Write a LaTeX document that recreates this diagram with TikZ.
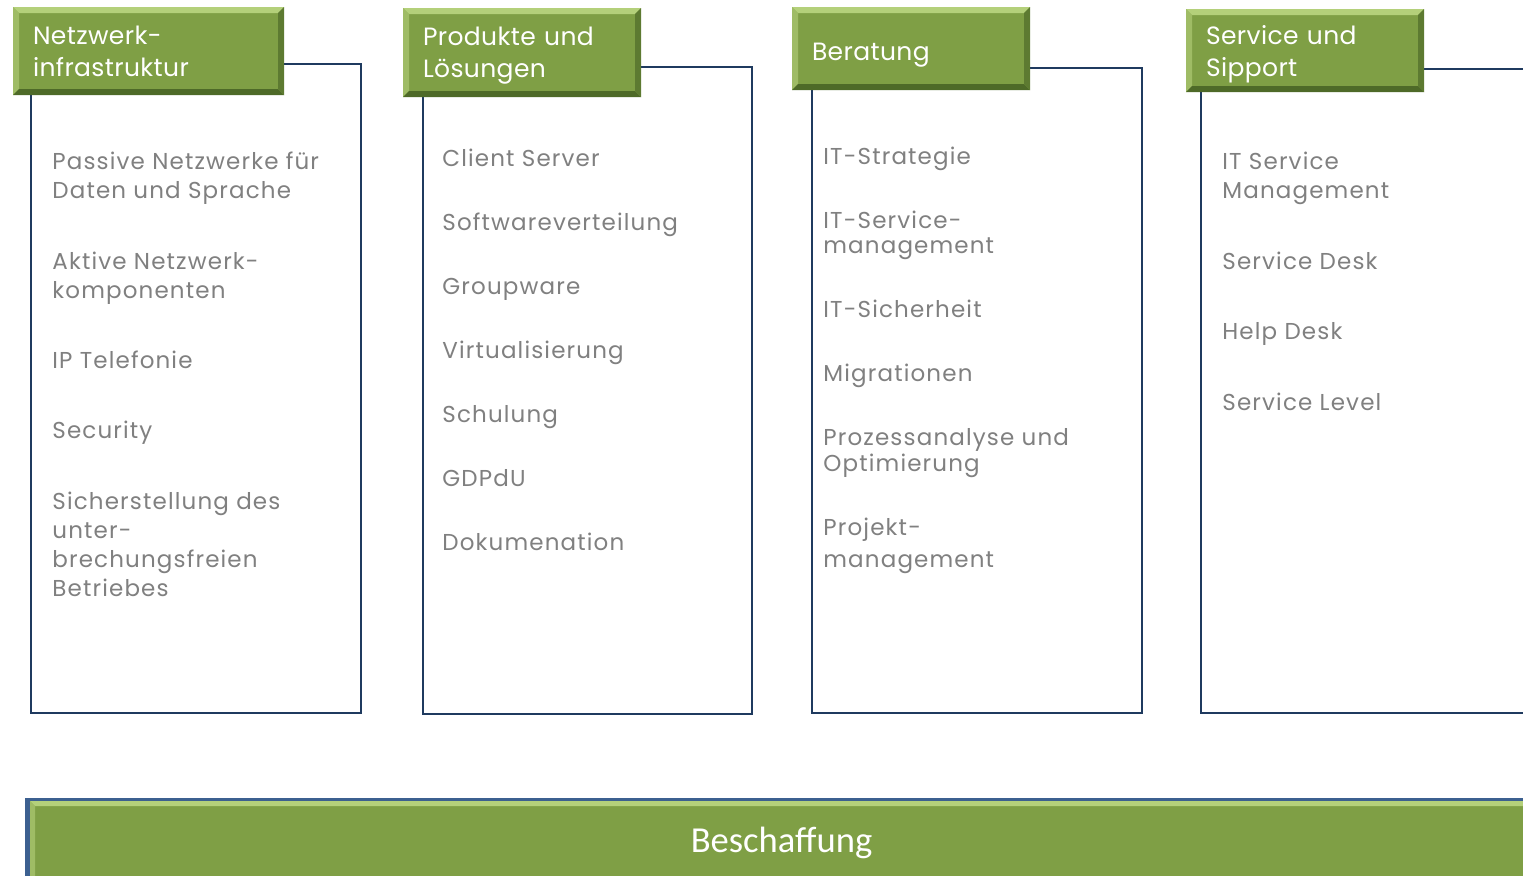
\documentclass[tikz,border=0pt]{standalone}
\usepackage{fontspec}
\setmainfont{Poppins}
\newfontfamily\hdrfont[LetterSpace = 1.5]{Poppins}
\newfontfamily\itemfont[LetterSpace = 5]{Poppins}
\newfontfamily\barfont{Carlito}

\definecolor{hdrgreen}{HTML}{7F9F45}
\definecolor{bvlight}{HTML}{B4D07A}
\definecolor{bvdark}{HTML}{4E6A28}
\definecolor{framenavy}{HTML}{1F3A5F}
\definecolor{barblue}{HTML}{3C6090}
\definecolor{itemgray}{HTML}{808080}

% no depth for lines with descenders
\newcommand{\nodepth}[1]{\raisebox{0pt}[\height][0pt]{#1}}

\tikzset{
	bevelled/.style = {path picture = {
		\coordinate (nw) at (path picture bounding box.north west);
		\coordinate (ne) at (path picture bounding box.north east);
		\coordinate (sw) at (path picture bounding box.south west);
		\coordinate (se) at (path picture bounding box.south east);
		\fill [bvlight] (nw) -- (ne) -- ([shift = {(-#1, -#1)}] ne) -- ([shift = {(#1, -#1)}] nw) -- cycle;
		\fill [bvlight!60!hdrgreen] (nw) -- ([shift = {(#1, -#1)}] nw) -- ([shift = {(#1, #1)}] sw) -- (sw) -- cycle;
		\fill [bvdark] (sw) -- ([shift = {(#1, #1)}] sw) -- ([shift = {(-#1, #1)}] se) -- (se) -- cycle;
		\fill [bvdark!70!hdrgreen] (se) -- ([shift = {(-#1, #1)}] se) -- ([shift = {(-#1, -#1)}] ne) -- (ne) -- cycle;
	}},
	hdr/.style = {fill = hdrgreen, bevelled = 3pt, text = white, align = left,
		font = \hdrfont\fontsize{12.5}{16}\selectfont, inner xsep = 10pt, inner ysep = 0pt},
	item/.style = {anchor = west, align = left, inner sep = 0pt, text = itemgray,
		font = \itemfont\fontsize{11.5}{14.5}\selectfont},
	panel/.style = {draw = framenavy, line width = 1.3pt}
}

\begin{document}
\begin{tikzpicture}[x = 0.5pt, y = -0.5pt]

	\clip (0, 0) rectangle (1523, 875);
	\fill [white] (0, 0) rectangle (1523, 875);

	% Panel frames

	\draw [panel] (31, 64) rectangle (361, 713);
	\draw [panel] (423, 67) rectangle (752, 714);
	\draw [panel] (812, 68) rectangle (1142, 713);
	\draw [panel] (1201, 69) rectangle (1560, 713);

	% Headers

	\node [hdr, text width = 115.5pt, minimum height = 44pt] (netz) at (148.5, 51) {Netzwerk-\\infrastruktur};
	\node [hdr, text width = 99pt, minimum height = 44.5pt] (prod) at (522, 52.5) {Produkte und\\\nodepth{Lösungen}};
	\node [hdr, text width = 99pt, minimum height = 41.5pt] (berat) at (911, 48.5) {\rule{0pt}{15pt}Beratung};
	\node [hdr, text width = 99pt, minimum height = 41.5pt] (serv) at (1305, 50.5) {Service und\\\nodepth{Sipport}};

	% Netzwerkinfrastruktur

	\node [item] (passiv) at (52, 178.5) {Passive Netzwerke für\\Daten und Sprache};
	\node [item] (aktiv) at (52, 278.5) {Aktive Netzwerk-\\komponenten};
	\node [item] (iptel) at (52, 360) {IP Telefonie};
	\node [item] (secur) at (52, 433) {Security};
	\node [item] (sicher) at (52, 544) {Sicherstellung des\\unter-\\brechungsfreien\\Betriebes};

	% Produkte und Loesungen

	\node [item] (client) at (442, 158) {Client Server};
	\node [item] (softw) at (442, 225) {Softwareverteilung};
	\node [item] (groupw) at (442, 289) {Groupware};
	\node [item] (virt) at (442, 353) {Virtualisierung};
	\node [item] (schul) at (442, 417) {Schulung};
	\node [item] (gdpdu) at (442, 478) {GDPdU};
	\node [item] (doku) at (442, 542) {Dokumenation};

	% Beratung

	\node [item] (strat) at (823, 159) {IT-Strategie};
	\node [item, font = \itemfont\fontsize{11.5}{12.5}\selectfont] (itsm) at (823, 235.5) {IT-Service-\\management};
	\node [item] (itsich) at (823, 309) {IT-Sicherheit};
	\node [item] (migr) at (823, 376) {Migrationen};
	\node [item, font = \itemfont\fontsize{11.5}{13}\selectfont] (prozess) at (823, 453) {Prozessanalyse und\\Optimierung};
	\node [item, font = \itemfont\fontsize{11.5}{16}\selectfont] (projekt) at (823, 546) {Projekt-\\management};

	% Service und Support

	\node [item] (itserv) at (1222, 178.5) {IT Service\\Management};
	\node [item] (sdesk) at (1222, 261) {Service Desk};
	\node [item] (hdesk) at (1222, 334) {Help Desk};
	\node [item] (slevel) at (1222, 402) {Service Level};

	% Beschaffung

	\fill [barblue] (25, 798) rectangle (1560, 890);
	\node [fill = hdrgreen, bevelled = 2.5pt, text = white, font = \barfont\fontsize{18.3}{20}\selectfont,
		minimum width = 751.5pt, minimum height = 42pt, inner sep = 0pt] (besch) at (781.5, 843) {Beschaffung};

\end{tikzpicture}
\end{document}
